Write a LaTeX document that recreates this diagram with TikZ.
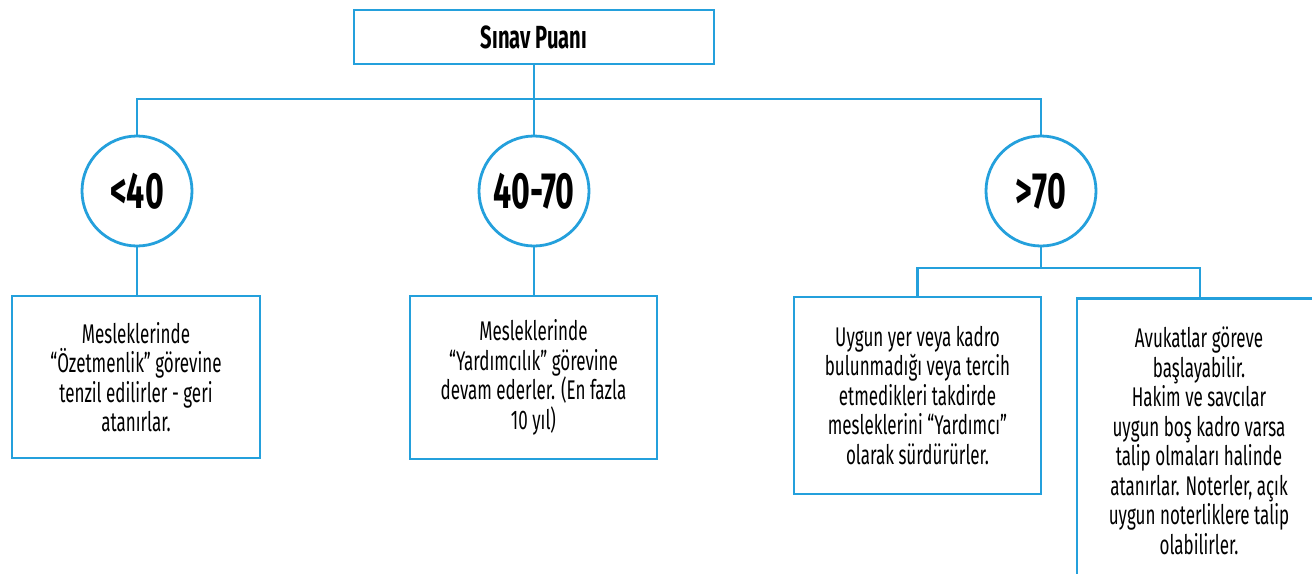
\documentclass[tikz,border=0pt]{standalone}
\usepackage{fontspec}
\setmainfont{Fira Sans}[FakeStretch=0.63]
\definecolor{lineblue}{RGB}{36,160,220}
\tikzset{
  conn/.style={draw=lineblue, line width=2.8pt},
  box/.style={draw=lineblue, line width=2.8pt, fill=white, rectangle, inner sep=0pt, align=center,
    font=\fontsize{27}{29.5}\selectfont},
  circ/.style={draw=lineblue, line width=2.8pt, fill=white, circle, minimum size=110pt, inner sep=0pt,
    font=\bfseries\fontsize{51}{51}\selectfont},
  bodytext/.style={align=center, inner sep=0pt, font=\fontsize{27}{29.5}\selectfont},
}
\begin{document}
\begin{tikzpicture}[x=1pt,y=-1pt]
\useasboundingbox (0,0) rectangle (1312,573);
\clip (0,0) rectangle (1312,573);
\fill[white] (0,0) rectangle (1312,573);
% nodes
\node[box, minimum width=360pt, minimum height=54pt, font=\bfseries\fontsize{32}{32}\selectfont] (top) at (534,37) {Sınav Puanı};
\node[circ] (c1) at (137,191) {\raisebox{-2pt}{<40}};
\node[circ] (c2) at (534,191) {\raisebox{-2pt}{40-70}};
\node[circ] (c3) at (1041,191) {\raisebox{-2pt}{>70}};
\coordinate (bar) at (534,99);
\coordinate (bar2) at (1041,268);
\node[box, minimum width=248pt, minimum height=162pt] (b1) at (136,377)
  {Mesleklerinde\\“Özetmenlik” görevine\\tenzil edilirler - geri\\atanırlar.};
\node[box, minimum width=247pt, minimum height=163pt] (b2) at (533.5,377.5)
  {Mesleklerinde\\“Yardımcılık” görevine\\devam ederler. (En fazla\\10 yıl)};
\node[box, minimum width=247pt, minimum height=197pt] (b3) at (917.5,395.5)
  {Uygun yer veya kadro\\bulunmadığı veya tercih\\etmedikleri takdirde\\mesleklerini “Yardımcı”\\olarak sürdürürler.};
\node[box, minimum width=246pt, minimum height=300pt, anchor=north] (b4) at (1200,297) {};
\node[bodytext] (t4) at (1199,441)
  {Avukatlar göreve\\başlayabilir.\\Hakim ve savcılar\\uygun boş kadro varsa\\talip olmaları halinde\\atanırlar. Noterler, açık\\uygun noterliklere talip\\olabilirler.};
% connectors
\draw[conn] (top.south) -- (bar);
\draw[conn] (c1.north) -- (c1.north |- bar) -- (c3.north |- bar) -- (c3.north);
\draw[conn] (c2.north) -- (c2.north |- bar);
\draw[conn] (c1.south) -- (c1.south |- b1.north);
\draw[conn] (c2.south) -- (c2.south |- b2.north);
\draw[conn] (c3.south) -- (bar2);
\draw[conn] (b3.north) -- (b3.north |- bar2) -- (b4.north |- bar2) -- (b4.north);
\end{tikzpicture}
\end{document}
